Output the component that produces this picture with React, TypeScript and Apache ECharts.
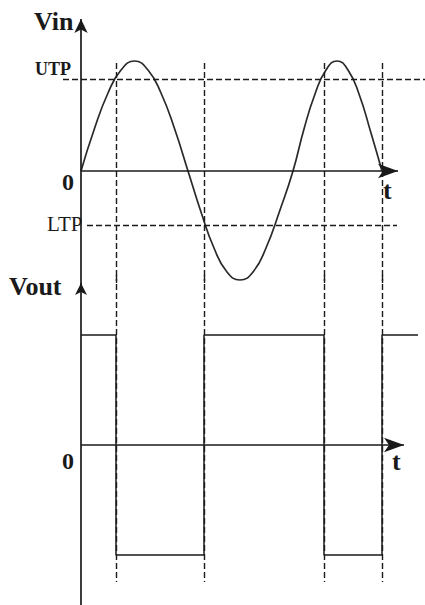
import React, { useEffect, useRef } from "react";
import * as echarts from "echarts";

// Vin waveform (t in 0.01-s units, volts normalised)
const vinT = [0, 0.13, 0.27, 0.4, 0.535, 0.67, 0.8, 0.94, 1.07, 1.2, 1.33, 1.46, 1.59, 1.72, 1.85, 1.99, 2.12, 2.23, 2.34, 2.45, 2.56, 2.67, 2.78, 2.9, 3.01];
const vinV = [0, 0.41, 0.78, 1.01, 1.1, 1.01, 0.78, 0.41, 0, -0.41, -0.77, -1.01, -1.09, -1.01, -0.77, -0.39, 0, 0.42, 0.77, 1.01, 1.1, 1.01, 0.77, 0.38, 0];
// Vout square wave
const voutEdges = [0, 0.35, 1.23, 2.43, 3.01, 3.37];
const voutLevels = [1.1, -1.1, 1.1, -1.1, 1.1, 1.1];
// thresholds
const UTP = 0.92;
const LTP = -0.54;
const utpSpan = [-0.18, 3.44];
const ltpSpan = [0.06, 3.16];
// switching instants (vertical dashed guides)
const switchTimes = [0.35, 1.23, 2.43, 3.01];
const guideTopVin = 1.08;
const guideBottomVout = -1.37;
// axis extents
const vinAxisX = 3.17;
const voutAxisX = 3.23;
const vinAxisTop = 1.52;
const voutAxisTop = 1.62;

const INK = "#1a1a1a";
const SERIF = '"Liberation Serif", "Times New Roman", serif';

export default function App() {
  const ref = useRef<HTMLDivElement>(null);
  useEffect(() => {
    if (!ref.current) return;
    const chart = echarts.init(ref.current, undefined, { renderer: "svg" });

    const dashed = { type: [6, 3] as any, color: INK, width: 1.4 };
    const solid = { type: "solid" as any, color: INK, width: 1.7 };

    const vinMarks: any[] = [
      [
        { coord: [0, 0], symbol: "none", lineStyle: solid },
        { coord: [vinAxisX, 0], symbol: "arrow", symbolSize: [11, 20] },
      ],
      [
        { coord: [0, -1.19], symbol: "none", lineStyle: solid },
        { coord: [0, vinAxisTop], symbol: "arrow", symbolSize: [10, 14] },
      ],
      [
        { coord: [utpSpan[0], UTP], symbol: "none", lineStyle: dashed },
        { coord: [utpSpan[1], UTP], symbol: "none" },
      ],
      [
        { coord: [ltpSpan[0], LTP], symbol: "none", lineStyle: dashed },
        { coord: [ltpSpan[1], LTP], symbol: "none" },
      ],
      ...switchTimes.map((t) => [
        { coord: [t, guideTopVin], symbol: "none", lineStyle: dashed },
        { coord: [t, -1.12], symbol: "none" },
      ]),
    ];

    const voutMarks: any[] = [
      [
        { coord: [0, 0], symbol: "none", lineStyle: solid },
        { coord: [voutAxisX, 0], symbol: "arrow", symbolSize: [11, 20] },
      ],
      [
        { coord: [0, -1.6], symbol: "none", lineStyle: solid },
        { coord: [0, voutAxisTop], symbol: "arrow", symbolSize: [9, 12] },
      ],
      ...switchTimes.map((t) => [
        { coord: [t, 1.7], symbol: "none", lineStyle: dashed },
        { coord: [t, guideBottomVout], symbol: "none" },
      ]),
    ];

    const voutData = voutEdges.map((t, i) => [t, voutLevels[i]]);

    const txt = (text: string, x: number, y: number, size: number, bold: boolean) => ({
      type: "text",
      x,
      y,
      style: {
        text,
        fill: INK,
        font: `${bold ? "bold " : ""}${size}px ${SERIF}`,
        textAlign: "left",
        textVerticalAlign: "middle",
        align: "left",
        verticalAlign: "middle",
      },
    });

    chart.setOption({
      animation: false,
      backgroundColor: "#ffffff",
      grid: [
        { left: 0, right: 0, top: 0, height: 290, containLabel: false },
        { left: 0, right: 0, top: 275, height: 330, containLabel: false },
      ],
      xAxis: [
        { type: "value", gridIndex: 0, min: -0.81, max: 3.44, show: false },
        { type: "value", gridIndex: 1, min: -0.81, max: 3.44, show: false },
      ],
      yAxis: [
        { type: "value", gridIndex: 0, min: -1.19, max: 1.71, show: false },
        { type: "value", gridIndex: 1, min: -1.6, max: 1.7, show: false },
      ],
      series: [
        {
          type: "line",
          name: "Vin",
          xAxisIndex: 0,
          yAxisIndex: 0,
          data: vinT.map((t, i) => [t, vinV[i]]),
          smooth: 0.5,
          showSymbol: false,
          symbol: "none",
          clip: false,
          lineStyle: { color: "#2a2a2a", width: 1.7 },
          markLine: { silent: true, animation: false, label: { show: false }, data: vinMarks },
        },
        {
          type: "line",
          name: "Vout",
          xAxisIndex: 1,
          yAxisIndex: 1,
          data: voutData,
          step: "end",
          showSymbol: false,
          symbol: "none",
          clip: false,
          lineStyle: { color: INK, width: 1.5 },
          markLine: { silent: true, animation: false, label: { show: false }, data: voutMarks },
        },
      ],
      graphic: [
        txt("Vin", 34, 21, 26, true),
        txt("UTP", 35, 69, 18, true),
        txt("0", 62, 182, 24, true),
        txt("t", 383, 190, 26, true),
        txt("LTP", 47, 224, 21, false),
        txt("Vout", 9, 286, 26, true),
        txt("0", 62, 461, 24, true),
        txt("t", 392, 461, 26, true),
      ],
    });
    return () => chart.dispose();
  }, []);
  return (
    <div
      ref={ref}
      style={{ position: "absolute", left: 0, top: 0, width: 425, height: 605, background: "#fff" }}
    />
  );
}
